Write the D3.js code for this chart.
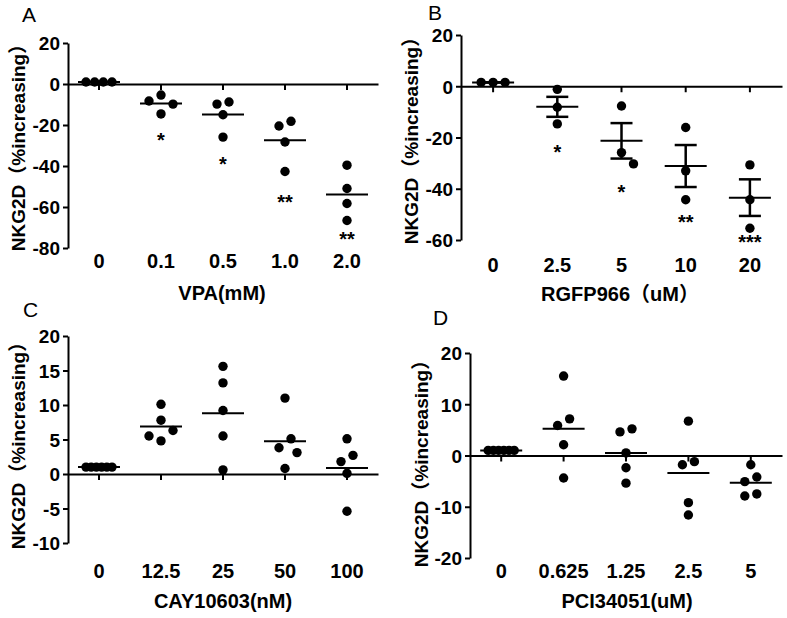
<!DOCTYPE html>
<html>
<head>
<meta charset="utf-8">
<script src="https://cdn.jsdelivr.net/npm/d3@7"></script>
<style>
  html, body { margin: 0; padding: 0; background: #fff; }
  svg { display: block; }
  text { font-family: "Liberation Sans", Arial, "Noto Sans CJK SC", sans-serif; fill: #000; }
</style>
</head>
<body>
<svg id="chart" width="787" height="618"></svg>
<script>
// ---------------- data ----------------
const yTitle = "NKG2D（%increasing）";

const catsA = ["0", "0.1", "0.5", "1.0", "2.0"];
const valsA = [
  [1, 1, 1, 1],
  [-8.3, -5.4, -9.8, -14.6],
  [-8.8, -9.8, -15.0, -25.9],
  [-18.2, -20.5, -28.3, -42.7],
  [-39.6, -51.0, -58.3, -66.6]
];
const starsA = ["", "*", "*", "**", "**"];
const starValA = [null, -25, -36.7, -55.4, -73.5];
const ticksA = [20, 0, -20, -40, -60, -80];
const titleA = "VPA(mM)";

const catsB = ["0", "2.5", "5", "10", "20"];
const valsB = [
  [1.5, 1.5, 1.5],
  [-1.2, -8.2, -14.7],
  [-7.7, -30.3, -25.9],
  [-16.1, -33.0, -44.3],
  [-30.7, -44.3, -55.4]
];
const starsB = ["", "*", "*", "**", "***"];
const starValB = [null, -24, -39.6, -51.3, -59];
const ticksB = [20, 0, -20, -40, -60];
const titleB = "RGFP966（uM）";

const catsC = ["0", "12.5", "25", "50", "100"];
const valsC = [
  [1, 1, 1, 1, 1, 1],
  [10.1, 7.8, 6.3, 5.5, 4.8],
  [15.6, 13.2, 9.2, 5.5, 0.6],
  [11.0, 5.1, 3.8, 3.1, 0.8],
  [5.1, 2.7, 1.8, 0.1, -5.4]
];
const ticksC = [20, 15, 10, 5, 0, -5, -10];
const titleC = "CAY10603(nM)";

const catsD = ["0", "0.625", "1.25", "2.5", "5"];
const valsD = [
  [1, 1, 1, 1, 1, 1],
  [15.5, 7.15, 5.85, 2.1, -4.4],
  [5.2, 4.6, 0.5, -2.4, -5.4],
  [6.7, -1.2, -1.8, -9.2, -11.6],
  [-1.8, -4.2, -5.1, -7.5, -7.9]
];
const ticksD = [20, 10, 0, -10, -20];
const titleD = "PCI34051(uM)";

// ---------------- drawing ----------------
const svg = d3.select("#chart");
svg.append("rect").attr("width", 787).attr("height", 618).attr("fill", "#fff");

const R = 4.7;

function layoutPoints(vals, y, cx) {
  const S = 12, D = 12, T = 9.5;
  const pts = vals.map(v => ({ v, py: y(v) })).sort((a, b) => a.py - b.py);
  const rows = [];
  for (const p of pts) {
    const r = rows[rows.length - 1];
    if (r && p.py - r[0].py < T) r.push(p); else rows.push([p]);
  }
  const placed = [];
  for (const row of rows) {
    const n = row.length;
    let cands;
    if (n === 1) cands = [[0], [S], [-S]];
    else if (n === 2) cands = [[S / 2, -S / 2], [S, -S]];
    else if (n === 3) cands = [[0, -S, S]];
    else {
      const s = Math.min(S, 26 / (n - 1));
      cands = [row.map((_, i) => (i - (n - 1) / 2) * s)];
    }
    let chosen = cands[0];
    for (const c of cands) {
      const ok = row.every((p, i) => placed.every(q => Math.hypot(q.px - (cx + c[i]), q.py - p.py) >= D));
      if (ok) { chosen = c; break; }
    }
    row.forEach((p, i) => { p.px = cx + chosen[i]; placed.push(p); });
  }
  return placed;
}

function panel(cfg) {
  const g = svg.append("g");
  const x = d3.scaleBand().domain(cfg.cats).range([cfg.left, cfg.right]);
  const y = d3.scaleLinear().domain(cfg.domain).range([cfg.bottom, cfg.top]);
  const y0 = y(0);

  // y axis
  const ya = g.append("g").attr("transform", `translate(${cfg.left},0)`)
    .call(d3.axisLeft(y).tickValues(cfg.ticks).tickSize(5).tickSizeOuter(0).tickPadding(3).tickFormat(d => String(d)));
  ya.select(".domain").attr("stroke", "#000").attr("stroke-width", 2);
  ya.selectAll(".tick line").attr("stroke", "#000").attr("stroke-width", 2);
  ya.selectAll(".tick text").attr("font-size", 19).attr("font-weight", "bold")
    .attr("font-family", "'Liberation Sans', Arial, sans-serif").attr("dy", "0.36em");

  // x axis (zero line, labels at bottom)
  const labelTop = cfg.labelBase - 0.71 * 20 - y0;
  const xa = g.append("g").attr("transform", `translate(0,${y0})`)
    .call(d3.axisBottom(x).tickSize(6).tickSizeOuter(0).tickPadding(labelTop - 6));
  xa.select(".domain").attr("stroke", "#000").attr("stroke-width", 2);
  xa.selectAll(".tick line").attr("stroke", "#000").attr("stroke-width", 2);
  xa.selectAll(".tick text").attr("font-size", 20).attr("font-weight", "bold")
    .attr("font-family", "'Liberation Sans', Arial, sans-serif");

  // groups
  cfg.vals.forEach((vals, i) => {
    const cx = x(cfg.cats[i]) + x.bandwidth() / 2;
    const pts = layoutPoints(vals, y, cx);
    const mean = d3.mean(vals);
    if (cfg.sem) {
      const sem = vals.length > 1 ? d3.deviation(vals) / Math.sqrt(vals.length) : 0;
      const gb = g.append("g").attr("stroke", "#000").attr("stroke-width", 2.5);
      gb.append("line").attr("x1", cx).attr("x2", cx).attr("y1", y(mean + sem)).attr("y2", y(mean - sem));
      [mean + sem, mean - sem].forEach(v => gb.append("line")
        .attr("x1", cx - 11).attr("x2", cx + 11).attr("y1", y(v)).attr("y2", y(v)));
    }
    g.selectAll(null).data(pts).enter().append("circle")
      .attr("cx", d => d.px).attr("cy", d => d.py).attr("r", R).attr("fill", "#000");
    g.append("line").attr("x1", cx - 21).attr("x2", cx + 21)
      .attr("y1", y(mean)).attr("y2", y(mean)).attr("stroke", "#000").attr("stroke-width", 2);
    if (cfg.stars && cfg.stars[i]) {
      g.append("text").attr("x", cx).attr("y", y(cfg.starVals[i]) + 11.5)
        .attr("text-anchor", "middle").attr("font-size", 20).attr("font-weight", "bold").text(cfg.stars[i]);
    }
  });

  // titles
  g.append("text").attr("transform", `translate(${cfg.yTitleX},${cfg.yTitleY}) rotate(-90)`)
    .attr("text-anchor", "middle").attr("font-size", 19).attr("font-weight", "bold").text(yTitle);
  g.append("text").attr("x", cfg.xTitleX).attr("y", cfg.xTitleBase)
    .attr("text-anchor", "middle").attr("font-size", 20).attr("font-weight", "bold").text(cfg.xTitle);
  g.append("text").attr("x", cfg.letterX).attr("y", cfg.letterY)
    .attr("font-size", 21).text(cfg.letter);
}

panel({ cats: catsA, vals: valsA, ticks: ticksA, domain: [-80, 20], left: 68, right: 378, top: 43, bottom: 248,
  labelBase: 268, stars: starsA, starVals: starValA, xTitle: titleA, xTitleX: 222, xTitleBase: 300,
  yTitleX: 25, yTitleY: 143, letter: "A", letterX: 22, letterY: 22 });
panel({ cats: catsB, vals: valsB, ticks: ticksB, domain: [-60, 20], left: 461, right: 782, top: 35, bottom: 240,
  labelBase: 272, stars: starsB, starVals: starValB, sem: true, xTitle: titleB, xTitleX: 620, xTitleBase: 301,
  yTitleX: 418, yTitleY: 136, letter: "B", letterX: 428, letterY: 20 });
panel({ cats: catsC, vals: valsC, ticks: ticksC, domain: [-10, 20], left: 68, right: 378, top: 336, bottom: 543,
  labelBase: 578, xTitle: titleC, xTitleX: 223, xTitleBase: 608,
  yTitleX: 25, yTitleY: 441, letter: "C", letterX: 23, letterY: 317 });
panel({ cats: catsD, vals: valsD, ticks: ticksD, domain: [-20, 20], left: 470, right: 782, top: 353, bottom: 558,
  labelBase: 578, xTitle: titleD, xTitleX: 627, xTitleBase: 608,
  yTitleX: 428, yTitleY: 459, letter: "D", letterX: 433, letterY: 325 });
</script>
</body>
</html>
